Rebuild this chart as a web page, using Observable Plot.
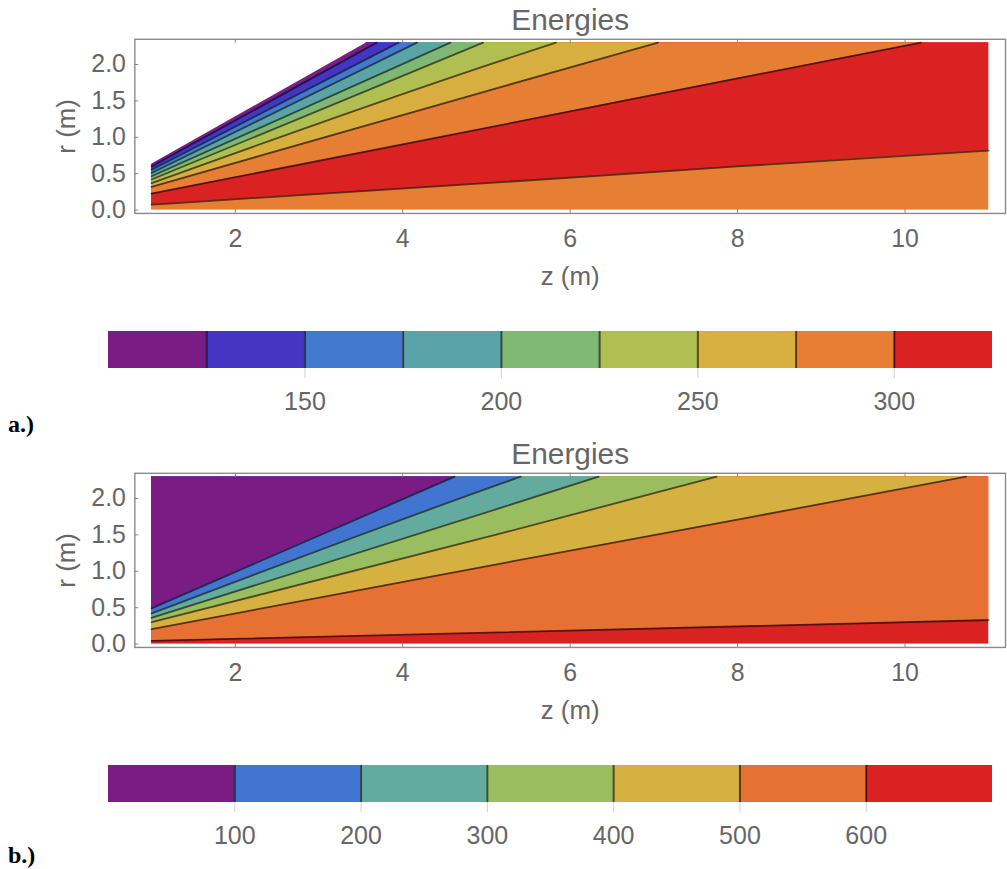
<!DOCTYPE html>
<html>
<head>
<meta charset="utf-8">
<script src="https://cdn.jsdelivr.net/npm/d3@7"></script>
<script src="https://cdn.jsdelivr.net/npm/@observablehq/plot@0.6"></script>
<style>
  html, body { margin: 0; padding: 0; background: #fff; }
  #root { position: relative; width: 1007px; height: 869px; overflow: hidden; background: #fff; }
  #root > * { position: absolute; left: 0; }
  .tag { font-family: "Liberation Serif", "Times New Roman", serif; font-weight: bold; font-size: 24px; line-height: 22px; color: #000; left: 8px !important; }
</style>
</head>
<body>
<div id="root"></div>
<script>
// ---------- shared axes ----------
const zTicks = [2, 4, 6, 8, 10];
const rTicks = [0, 0.5, 1.0, 1.5, 2.0];
const zExtent = [1, 11];
const rExtent = [0, 2.3];
const titleText = "Energies";
const xLabel = "z (m)";
const yLabel = "r (m)";

// ---------- panel a ----------
const aBreaks = [100, 125, 150, 175, 200, 225, 250, 275, 300, 325];
const aColors = ["#7a1c84", "#4436c3", "#4279cf", "#5aa4a8", "#7fb875", "#afbf51", "#d7ae3f", "#e67f34", "#da2223"];
const aLegendTicks = [150, 200, 250, 300];
const aBaseBand = 7;                      // band filling the bottom (275–300)
const aLineLevel = [300, 300, 275, 250, 225, 200, 175, 150, 125, 100];
const aLineAbove = [8, 7, 6, 5, 4, 3, 2, 1, 0, -1]; // band index above each contour (-1 = outside range)
const aLineZ = [
  [1, 5.14, 8, 11],
  [1, 5.14, 8, 10.19],
  [1, 5.14, 7.05],
  [1, 5.14, 5.83],
  [1, 4.96],
  [1, 4.57],
  [1, 4.17],
  [1, 3.95],
  [1, 3.69],
  [1, 3.55]
];
const aLineR = [
  [0.075, 0.38, 0.60, 0.817],
  [0.227, 1.16, 1.81, 2.3],
  [0.32, 1.68, 2.3],
  [0.37, 2.04, 2.3],
  [0.42, 2.3],
  [0.465, 2.3],
  [0.51, 2.3],
  [0.555, 2.3],
  [0.60, 2.3],
  [0.645, 2.3]
];

// ---------- panel b ----------
const bBreaks = [0, 100, 200, 300, 400, 500, 600, 700];
const bColors = ["#7a1c84", "#4274d1", "#62ab9e", "#99bd5f", "#d4b140", "#e77133", "#da2223"];
const bLegendTicks = [100, 200, 300, 400, 500, 600];
const bBaseBand = 6;                      // band filling the bottom (600–700)
const bLineLevel = [600, 500, 400, 300, 200, 100];
const bLineAbove = [5, 4, 3, 2, 1, 0];
const bLineZ = [
  [1, 5.14, 11],
  [1, 5.14, 8, 10.73],
  [1, 5.14, 7.75],
  [1, 5.14, 6.34],
  [1, 5.14, 5.41],
  [1, 4.62]
];
const bLineR = [
  [0.045, 0.16, 0.33],
  [0.205, 1.10, 1.71, 2.3],
  [0.30, 1.51, 2.3],
  [0.36, 1.86, 2.3],
  [0.42, 2.19, 2.3],
  [0.49, 2.3]
];

const GRAY = "#666";
const FONT = "'Liberation Sans', Arial, Helvetica, sans-serif";
const root = document.getElementById("root");

function contourPanel(colors, base, above, lineZ, lineR, level) {
  const pad = 0.02;
  const xd = [zExtent[0] - pad * (zExtent[1] - zExtent[0]), zExtent[1] + pad * (zExtent[1] - zExtent[0])];
  const yd = [rExtent[0] - pad * (rExtent[1] - rExtent[0]), rExtent[1] + pad * (rExtent[1] - rExtent[0])];
  const lines = lineZ.map((zs, i) => zs.map((z, j) => ({z, r: lineR[i][j], level: level[i]})));
  const marks = [];
  marks.push(Plot.rect([0], {x1: zExtent[0], x2: zExtent[1], y1: rExtent[0], y2: rExtent[1], fill: colors[base]}));
  lines.forEach((pts, i) => {
    const outside = above[i] < 0;
    marks.push(Plot.areaY(pts, {
      x: "z", y1: "r", y2: rExtent[1], curve: "monotone-x",
      fill: outside ? "#fff" : colors[above[i]],
      stroke: outside ? "#fff" : "none", strokeWidth: outside ? 2 : 0
    }));
  });
  lines.forEach((pts, i) => {
    if (above[i] >= 0) marks.push(Plot.line(pts, {x: "z", y: "r", stroke: "#000", strokeOpacity: 0.6, strokeWidth: 1.8, curve: "monotone-x"}));
  });
  marks.push(
    Plot.ruleX(zTicks, {stroke: "#888", insetTop: 171}),
    Plot.ruleX(zTicks, {stroke: "#888", insetBottom: 171}),
    Plot.ruleY(rTicks, {stroke: "#888", insetRight: 871}),
    Plot.frame({stroke: "#8a8a8a", strokeWidth: 1.4}),
    Plot.axisX({ticks: zTicks, tickSize: 0, tickPadding: 16, fontSize: 25, fill: GRAY, label: null}),
    Plot.axisY({ticks: rTicks, tickFormat: d3.format(".1f"), tickSize: 0, tickPadding: 9, fontSize: 25, fill: GRAY, label: null}),
    Plot.text([titleText], {frameAnchor: "top", lineAnchor: "bottom", dy: -9, fontSize: 30, fill: GRAY}),
    Plot.text([xLabel], {frameAnchor: "bottom", lineAnchor: "middle", dy: 64, fontSize: 26, fill: GRAY}),
    Plot.text([yLabel], {frameAnchor: "left", lineAnchor: "middle", textAnchor: "middle", rotate: -90, dx: -68, fontSize: 26, fill: GRAY})
  );
  return Plot.plot({
    width: 1012, height: 300,
    marginLeft: 135, marginRight: 2, marginTop: 39, marginBottom: 86,
    x: {domain: xd, axis: null},
    y: {domain: yd, axis: null},
    style: {fontFamily: FONT, background: "transparent", overflow: "visible"},
    marks
  });
}

function colorBar(breaks, colors, ticks) {
  const bands = colors.map((c, i) => ({lo: breaks[i], hi: breaks[i + 1], color: c}));
  return Plot.plot({
    width: 1007, height: 130,
    marginLeft: 108, marginRight: 15, marginTop: 31, marginBottom: 62,
    x: {domain: [breaks[0], breaks[breaks.length - 1]], axis: null},
    y: {domain: [0, 1], axis: null},
    color: {type: "identity"},
    style: {fontFamily: FONT, background: "transparent", overflow: "visible"},
    marks: [
      Plot.rect(bands, {x1: "lo", x2: "hi", y1: 0, y2: 1, fill: "color"}),
      Plot.ruleX(breaks.slice(1, -1), {y1: 0, y2: 1, stroke: "#000", strokeOpacity: 0.6, strokeWidth: 2}),
      Plot.axisX({ticks, tickSize: 10, tickPadding: 14, stroke: "#d0d0d0", fill: GRAY, fontSize: 25, label: null})
    ]
  });
}

function place(el, top) { el.style.top = top + "px"; root.appendChild(el); }

place(contourPanel(aColors, aBaseBand, aLineAbove, aLineZ, aLineR, aLineLevel), 0);
place(colorBar(aBreaks, aColors, aLegendTicks), 300);
place(contourPanel(bColors, bBaseBand, bLineAbove, bLineZ, bLineR, bLineLevel), 434);
place(colorBar(bBreaks, bColors, bLegendTicks), 734);

const tagA = document.createElement("div"); tagA.className = "tag"; tagA.textContent = "a.)"; place(tagA, 413);
const tagB = document.createElement("div"); tagB.className = "tag"; tagB.textContent = "b.)"; place(tagB, 844);
</script>
</body>
</html>
